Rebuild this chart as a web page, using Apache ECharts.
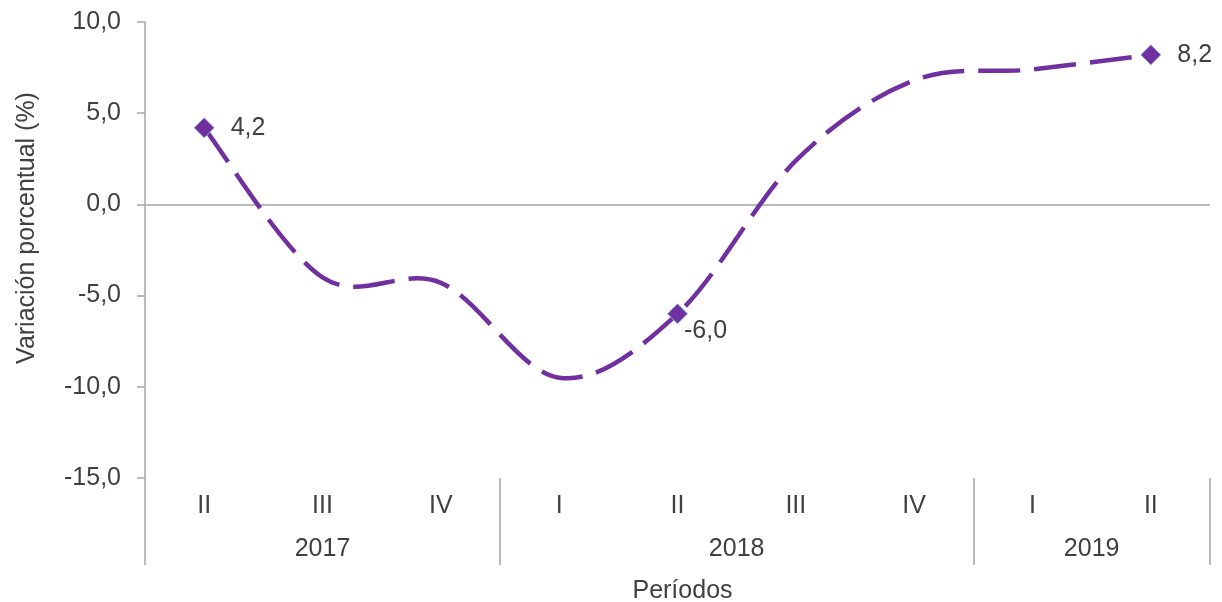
<!DOCTYPE html>
<html>
<head>
<meta charset="utf-8">
<script src="https://cdn.jsdelivr.net/npm/echarts@6/dist/echarts.min.js"></script>
<style>
  html, body { margin: 0; padding: 0; background: #ffffff; }
  #chart { width: 1222px; height: 602px; }
</style>
</head>
<body>
<div id="chart"></div>
<script>
// Quarterly periods and the year each one belongs to
const quarters = ['II', 'III', 'IV', 'I', 'II', 'III', 'IV', 'I', 'II'];
const quarterYears = ['2017', '2017', '2017', '2018', '2018', '2018', '2018', '2019', '2019'];
// Percentage variation per period
const variation = [4.2, -4.0, -4.3, -9.5, -6.0, 2.4, 6.8, 7.4, 8.2];
// Periods that carry a marker and a value label
const labelledPoints = [0, 4, 8];
// Value axis range
const yMin = -15, yMax = 10, yStep = 5;

const TEXT = '#404040';
const GRID_GRAY = '#A6A6A6';
const PURPLE = '#7030A0';
const FONT = '"Liberation Sans", Arial, sans-serif';
const FS = 25;

const fmt = v => Number(v).toFixed(1).replace('.', ',');

// Year level: every quarter spans two slots, so group centres and group
// edges both land on slot boundaries of a boundaryGap:false axis.
const slotLabels = new Array(quarters.length * 2 + 1).fill('');
const groupEdges = [0];
let start = 0;
for (let i = 1; i <= quarters.length; i++) {
  if (i === quarters.length || quarterYears[i] !== quarterYears[start]) {
    slotLabels[start + i] = quarterYears[start];
    groupEdges.push(2 * i);
    start = i;
  }
}

// Marker + label layer (its own line is hidden; the curve is drawn below)
const markerData = variation.map((v, i) => {
  if (!labelledPoints.includes(i)) return { value: v, symbol: 'none' };
  const item = { value: v, symbol: 'diamond', label: { show: true } };
  if (v < 0) item.label = { show: true, position: 'right', distance: 4, offset: [-8, 17] };
  return item;
});

// Smoothed curve through the points (Catmull-Rom style cubic Béziers),
// positioned with the chart's own coordinate system.
function renderCurve(params, api) {
  if (params.dataIndex !== 0) return null;
  const pts = variation.map((v, i) => api.coord([i, v]));
  const n = pts.length;
  let d = 'M' + pts[0][0] + ' ' + pts[0][1];
  for (let i = 0; i < n - 1; i++) {
    const p0 = pts[Math.max(i - 1, 0)];
    const p1 = pts[i];
    const p2 = pts[i + 1];
    const p3 = pts[Math.min(i + 2, n - 1)];
    const c1x = p1[0] + (p2[0] - p0[0]) / 6;
    const c1y = p1[1] + (p2[1] - p0[1]) / 6;
    const c2x = p2[0] - (p3[0] - p1[0]) / 6;
    const c2y = p2[1] - (p3[1] - p1[1]) / 6;
    d += ' C' + c1x + ' ' + c1y + ' ' + c2x + ' ' + c2y + ' ' + p2[0] + ' ' + p2[1];
  }
  return {
    type: 'path',
    silent: true,
    shape: { pathData: d },
    style: { fill: 'none', stroke: PURPLE, lineWidth: 4.5, lineDash: [42, 14], lineCap: 'butt' }
  };
}

const chart = echarts.init(document.getElementById('chart'), null, { renderer: 'canvas' });
chart.setOption({
  animation: false,
  backgroundColor: '#ffffff',
  textStyle: { fontFamily: FONT },
  grid: { left: 145, right: 12, top: 22, bottom: 124, containLabel: false, outerBoundsMode: 'none' },
  xAxis: [
    {
      type: 'category',
      data: quarters,
      boundaryGap: true,
      position: 'bottom',
      axisLine: { show: false, onZero: false },
      axisTick: { show: false },
      splitLine: { show: false },
      axisLabel: { color: TEXT, fontSize: FS, fontFamily: FONT, margin: 16, interval: 0 }
    },
    {
      type: 'category',
      data: slotLabels,
      boundaryGap: false,
      position: 'bottom',
      axisLine: { show: false, onZero: false },
      axisTick: {
        show: true,
        length: 87,
        interval: idx => groupEdges.includes(idx),
        lineStyle: { color: GRID_GRAY, width: 1.5 }
      },
      splitLine: { show: false },
      axisLabel: { color: TEXT, fontSize: FS, fontFamily: FONT, margin: 59, interval: 0 },
      name: 'Períodos',
      nameLocation: 'middle',
      nameGap: 101,
      nameTextStyle: { color: TEXT, fontSize: FS, fontFamily: FONT, padding: [0, 0, 0, 10] }
    }
  ],
  yAxis: {
    type: 'value',
    min: yMin,
    max: yMax,
    interval: yStep,
    axisLine: { show: true, lineStyle: { color: GRID_GRAY, width: 1.5 } },
    axisTick: { show: true, length: 8, lineStyle: { color: GRID_GRAY, width: 1.5 } },
    splitLine: { show: false },
    axisLabel: { color: TEXT, fontSize: FS, fontFamily: FONT, margin: 24, formatter: v => fmt(v) },
    name: 'Variación porcentual (%)',
    nameLocation: 'middle',
    nameRotate: 90,
    nameGap: 105,
    nameTextStyle: { color: TEXT, fontSize: FS, fontFamily: FONT, padding: [0, 0, 0, 44] }
  },
  series: [
    {
      type: 'custom',
      xAxisIndex: 0,
      coordinateSystem: 'cartesian2d',
      data: variation.map((v, i) => [i, v]),
      encode: { x: 0, y: 1 },
      renderItem: renderCurve,
      clip: false,
      silent: true,
      z: 2
    },
    {
      type: 'line',
      xAxisIndex: 0,
      data: markerData,
      symbolSize: 20,
      showSymbol: true,
      lineStyle: { opacity: 0 },
      itemStyle: { color: PURPLE, borderColor: '#8EA9DB', borderWidth: 1 },
      label: {
        show: false,
        position: 'right',
        distance: 16,
        color: TEXT,
        fontSize: FS,
        fontFamily: FONT,
        formatter: p => fmt(p.value)
      },
      emphasis: { disabled: true },
      markLine: {
        silent: true,
        symbol: ['none', 'none'],
        label: { show: false },
        lineStyle: { color: GRID_GRAY, width: 1.5, type: 'solid' },
        emphasis: { disabled: true },
        z: 1,
        data: [{ yAxis: 0 }]
      },
      z: 3
    }
  ]
});
</script>
</body>
</html>
